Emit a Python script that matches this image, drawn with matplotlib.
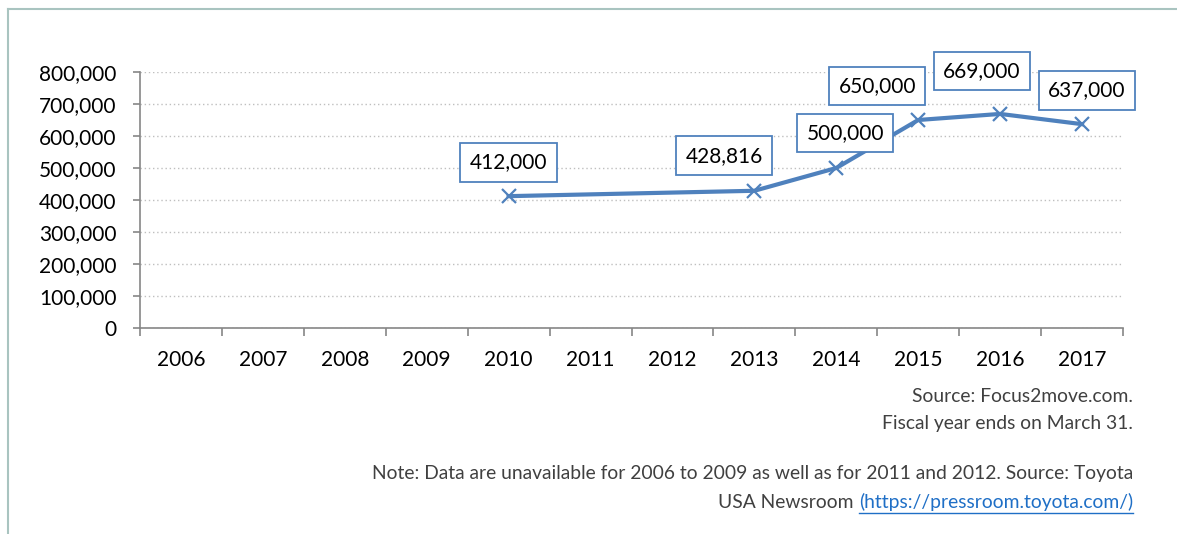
import numpy as np
import matplotlib.pyplot as plt
from matplotlib.lines import Line2D

# sales per fiscal year, nan = no data
years = ['2006', '2007', '2008', '2009', '2010', '2011',
         '2012', '2013', '2014', '2015', '2016', '2017']
sales = [np.nan, np.nan, np.nan, np.nan, 412000, np.nan,
         np.nan, 428816, 500000, 650000, 669000, 637000]
labels = ['412,000', '428,816', '500,000', '650,000', '669,000', '637,000']
# where the label boxes sit relative to the points (pixels)
label_offsets = [(0, 34), (-30, 35), (9, 35), (-41, 34), (-18, 43), (5, 34)]

blue = '#4F81BD'
plt.rcParams['font.family'] = ['Lato', 'DejaVu Sans']

fig = plt.figure(figsize=(11.77, 5.34), dpi=100)
W, H = 1177, 534

# outer frame (left and top only visible)
fig.add_artist(Line2D([8 / W, 8 / W], [0, 1 - 9 / H], color='#A9C4C0', lw=1.5))
fig.add_artist(Line2D([8 / W, 1], [1 - 9 / H, 1 - 9 / H], color='#A9C4C0', lw=1.5))

ax = fig.add_axes([140 / W, 206 / H, 983 / W, 256 / H])

x = np.arange(len(years))
y = np.array(sales, dtype=float)
ok = ~np.isnan(y)
ax.plot(x[ok], y[ok], color=blue, lw=3, marker='x', markersize=10,
        markeredgewidth=1.6, zorder=3)

for xi, yi, lab, off in zip(x[ok], y[ok], labels, label_offsets):
    ax.annotate(lab, (xi, yi), xytext=off, textcoords='offset pixels',
                ha='center', va='center', fontsize=15, zorder=4,
                bbox=dict(boxstyle='square,pad=0.45', fc='white', ec=blue, lw=1.3))

ax.set_xlim(-0.5, len(years) - 0.5)
ax.set_ylim(0, 800000)
ax.set_yticks(np.arange(0, 800001, 100000))
ax.set_yticklabels(['{:,}'.format(v) for v in range(0, 800001, 100000)])
ax.set_xticks(x)
ax.set_xticklabels(years)
ax.set_xticks(np.arange(-0.5, len(years)), minor=True)
ax.tick_params(axis='x', which='major', length=0, pad=16, labelsize=15)
ax.tick_params(axis='x', which='minor', length=6, color='#868686', width=1.2)
ax.tick_params(axis='y', length=5, color='#868686', width=1.2, pad=12, labelsize=15)
ax.grid(axis='y', linestyle=(0, (1, 2)), color='#BFBFBF', lw=1)
for s in ['top', 'right']:
    ax.spines[s].set_visible(False)
for s in ['left', 'bottom']:
    ax.spines[s].set_color('#868686')
    ax.spines[s].set_linewidth(1.2)

# footnotes
note_kw = dict(ha='right', va='center', fontsize=13.9, color='#404040')
xr = 1133 / W
fig.text(xr, 1 - 397 / H, 'Source: Focus2move.com.', **note_kw)
fig.text(xr, 1 - 424 / H, 'Fiscal year ends on March 31.', **note_kw)
fig.text(xr, 1 - 473 / H,
         'Note: Data are unavailable for 2006 to 2009 as well as for 2011 and 2012. Source: Toyota',
         **note_kw)
link = fig.text(xr, 1 - 502 / H, '(https://pressroom.toyota.com/)',
                ha='right', va='center', fontsize=13.9, color='#1F6FC6')
fig.canvas.draw()
bb = link.get_window_extent()
fig.text(bb.x0 / W, 1 - 502 / H, 'USA Newsroom ', **note_kw)
fig.add_artist(Line2D([bb.x0 / W, bb.x1 / W], [1 - 513 / H] * 2,
                      color='#1F6FC6', lw=1))

fig.savefig('out.png', dpi=100)
